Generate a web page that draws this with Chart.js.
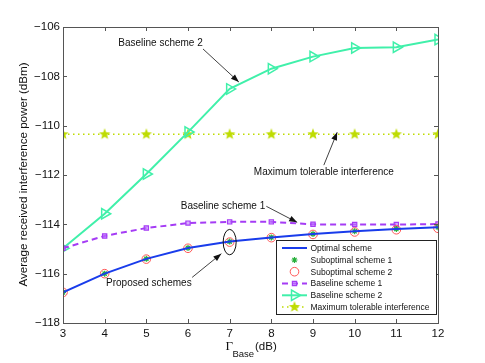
<!DOCTYPE html>
<html>
<head>
<meta charset="utf-8">
<script src="https://cdn.jsdelivr.net/npm/chart.js@4/dist/chart.umd.min.js"></script>
<style>
html,body{margin:0;padding:0;background:#fff;}
#wrap{width:485px;height:363px;position:relative;}
</style>
</head>
<body>
<div id="wrap"><canvas id="c" width="485" height="363"></canvas></div>
<script>
// ---- data ----
const gammaBase = [3, 4, 5, 6, 7, 8, 9, 10, 11, 12];
const optimalScheme = [-116.76, -116.0, -115.40, -114.96, -114.70, -114.53, -114.39, -114.28, -114.19, -114.12];
const suboptimal1 = [-116.76, -116.0, -115.40, -114.96, -114.70, -114.53, -114.39, -114.28, -114.19, -114.12];
const suboptimal2 = [-116.76, -116.0, -115.41, -114.97, -114.72, -114.54, -114.41, -114.31, -114.22, -114.16];
const baseline1 = [-114.97, -114.47, -114.15, -113.95, -113.90, -113.90, -114.00, -114.01, -114.01, -113.99];
const baseline2 = [-114.97, -113.57, -111.96, -110.26, -108.51, -107.69, -107.20, -106.85, -106.82, -106.51];
const maxTolerable = [-110.35, -110.35, -110.35, -110.35, -110.35, -110.35, -110.35, -110.35, -110.35, -110.35];
const yTicks = [-118, -116, -114, -112, -110, -108, -106];
const xTicks = [3, 4, 5, 6, 7, 8, 9, 10, 11, 12];
const seriesNames = ['Optimal scheme', 'Suboptimal scheme 1', 'Suboptimal scheme 2', 'Baseline scheme 1', 'Baseline scheme 2', 'Maximum tolerable interference'];
// annotations: [text, textX, textY, arrowFromX, arrowFromY, arrowToX, arrowToY]
const annotations = [
  ['Baseline scheme 2', 5.34, -106.65, 6.36, -106.89, 7.22, -108.23],
  ['Maximum tolerable interference', 9.26, -111.88, 9.26, -111.6, 9.58, -110.27],
  ['Baseline scheme 1', 6.84, -113.27, 7.88, -113.27, 8.62, -113.92],
  ['Proposed schemes', 5.06, -116.4, 6.1, -116.15, 6.8, -115.19]
];
const ellipseAt = [7.0, -114.72];

// ---- styles ----
const C_OPT = 'rgb(25,60,235)';
const C_S1 = 'rgb(40,175,60)';
const C_S2 = 'rgb(255,85,85)';
const C_B1 = 'rgb(165,60,245)';
const C_B2 = 'rgb(64,240,170)';
const C_MAX = 'rgb(190,220,0)';

function makeStar(r, color) {
  const cv = document.createElement('canvas');
  const s = Math.ceil(2 * r + 2);
  cv.width = s; cv.height = s;
  const g = cv.getContext('2d');
  g.fillStyle = color;
  g.beginPath();
  for (let i = 0; i < 10; i++) {
    const rr = i % 2 === 0 ? r : r * 0.42;
    const a = -Math.PI / 2 + i * Math.PI / 5;
    const px = s / 2 + rr * Math.cos(a), py = s / 2 + rr * Math.sin(a);
    if (i === 0) g.moveTo(px, py); else g.lineTo(px, py);
  }
  g.closePath();
  g.fill();
  return cv;
}
const starImg = makeStar(6, C_MAX);

const toXY = arr => arr.map((v, i) => ({x: gammaBase[i], y: v}));

const datasets = [
  {label: seriesNames[0], data: toXY(optimalScheme), borderColor: C_OPT, borderWidth: 2, pointRadius: 0, showLine: true},
  {label: seriesNames[1], data: toXY(suboptimal1), borderColor: C_S1, backgroundColor: C_S1, showLine: false, pointStyle: 'star', pointRadius: 3, pointBorderWidth: 1.2},
  {label: seriesNames[2], data: toXY(suboptimal2), borderColor: C_S2, backgroundColor: 'rgba(0,0,0,0)', showLine: false, pointStyle: 'circle', pointRadius: 4.3, pointBorderWidth: 1},
  {label: seriesNames[3], data: toXY(baseline1), borderColor: C_B1, backgroundColor: 'rgba(190,120,255,0.6)', borderWidth: 2, borderDash: [6, 4], showLine: true, pointStyle: 'rect', pointRadius: 3, pointBorderWidth: 1.2},
  {label: seriesNames[4], data: toXY(baseline2), borderColor: C_B2, backgroundColor: 'rgba(0,0,0,0)', borderWidth: 2, showLine: true, pointStyle: 'triangle', pointRotation: 90, pointRadius: 6, pointBorderWidth: 1.5},
  {label: seriesNames[5], data: toXY(maxTolerable), borderColor: C_MAX, backgroundColor: C_MAX, borderWidth: 1.5, borderDash: [1.5, 3.5], showLine: true, pointStyle: starImg, pointRadius: 6}
];

function drawArrow(ctx, x1, y1, x2, y2) {
  ctx.beginPath();
  ctx.moveTo(x1, y1); ctx.lineTo(x2, y2);
  ctx.stroke();
  const ang = Math.atan2(y2 - y1, x2 - x1);
  const L = 8, W = 3;
  ctx.beginPath();
  ctx.moveTo(x2, y2);
  ctx.lineTo(x2 - L * Math.cos(ang) + W * Math.sin(ang), y2 - L * Math.sin(ang) - W * Math.cos(ang));
  ctx.lineTo(x2 - L * Math.cos(ang) - W * Math.sin(ang), y2 - L * Math.sin(ang) + W * Math.cos(ang));
  ctx.closePath();
  ctx.fill();
}

const decor = {
  id: 'decor',
  afterDatasetsDraw(chart) {
    const {ctx, chartArea: a, scales: {x, y}} = chart;
    ctx.save();
    // box
    ctx.strokeStyle = '#555';
    ctx.lineWidth = 1;
    ctx.strokeRect(Math.round(a.left) + 0.5, Math.round(a.top) + 0.5, Math.round(a.right - a.left), Math.round(a.bottom - a.top));
    // inward ticks
    ctx.beginPath();
    const tl = 4;
    xTicks.forEach(t => {
      const px = Math.round(x.getPixelForValue(t)) + 0.5;
      ctx.moveTo(px, a.bottom); ctx.lineTo(px, a.bottom - tl);
      ctx.moveTo(px, a.top); ctx.lineTo(px, a.top + tl);
    });
    yTicks.forEach(t => {
      const py = Math.round(y.getPixelForValue(t)) + 0.5;
      ctx.moveTo(a.left, py); ctx.lineTo(a.left + tl, py);
      ctx.moveTo(a.right, py); ctx.lineTo(a.right - tl, py);
    });
    ctx.stroke();

    // annotations
    ctx.fillStyle = '#111';
    ctx.strokeStyle = '#111';
    ctx.lineWidth = 0.8;
    ctx.font = '10px "Liberation Sans", Arial, sans-serif';
    ctx.textAlign = 'center';
    ctx.textBaseline = 'middle';
    annotations.forEach(an => {
      ctx.fillText(an[0], x.getPixelForValue(an[1]), y.getPixelForValue(an[2]));
      drawArrow(ctx, x.getPixelForValue(an[3]), y.getPixelForValue(an[4]), x.getPixelForValue(an[5]), y.getPixelForValue(an[6]));
    });
    // ellipse
    ctx.lineWidth = 1;
    ctx.beginPath();
    ctx.ellipse(x.getPixelForValue(ellipseAt[0]), y.getPixelForValue(ellipseAt[1]), 6.5, 12.7, 0, 0, Math.PI * 2);
    ctx.stroke();

    // legend
    const lx = 276.5, ly = 240.5, lw = 160, lh = 74;
    ctx.fillStyle = '#fff';
    ctx.fillRect(lx, ly, lw, lh);
    ctx.strokeStyle = '#222';
    ctx.lineWidth = 1;
    ctx.strokeRect(lx, ly, lw, lh);
    const rows = [248, 260, 271.7, 283.5, 295.3, 307];
    const x0 = 282, x1 = 307, xm = 294.5, xt = 310.5;
    ctx.font = '8.5px "Liberation Sans", Arial, sans-serif';
    ctx.textAlign = 'left';
    datasets.forEach((ds, i) => {
      const ry = rows[i];
      if (ds.showLine) {
        ctx.save();
        ctx.strokeStyle = ds.borderColor;
        ctx.lineWidth = ds.borderWidth;
        ctx.setLineDash(ds.borderDash || []);
        ctx.beginPath(); ctx.moveTo(x0, ry); ctx.lineTo(x1, ry); ctx.stroke();
        ctx.restore();
      }
      if (ds.pointRadius > 0) {
        ctx.save();
        ctx.strokeStyle = ds.borderColor;
        ctx.fillStyle = ds.backgroundColor;
        ctx.lineWidth = ds.pointBorderWidth || 1;
        Chart.helpers.drawPoint(ctx, {pointStyle: ds.pointStyle, radius: ds.pointRadius, rotation: ds.pointRotation || 0, borderWidth: ds.pointBorderWidth || 1}, xm, ry);
        ctx.restore();
      }
      ctx.fillStyle = '#111';
      ctx.fillText(ds.label, xt, ry + 0.5);
    });

    // x-axis title with subscript
    ctx.fillStyle = '#111';
    ctx.textBaseline = 'alphabetic';
    ctx.font = '13px "Liberation Serif", "DejaVu Serif", serif';
    ctx.fillText('\u0393', 225.5, 349.5);
    ctx.font = '9.5px "Liberation Sans", Arial, sans-serif';
    ctx.fillText('Base', 232.5, 356.5);
    ctx.font = '11.5px "Liberation Sans", Arial, sans-serif';
    ctx.fillText('(dB)', 255, 350);

    // y-axis title
    ctx.save();
    ctx.translate(24, 174.5);
    ctx.rotate(-Math.PI / 2);
    ctx.textAlign = 'center';
    ctx.textBaseline = 'middle';
    ctx.font = '11.6px "Liberation Sans", Arial, sans-serif';
    ctx.fillText('Average received interference power (dBm)', 0, 0);
    ctx.restore();
    ctx.restore();
  }
};

new Chart(document.getElementById('c'), {
  type: 'line',
  data: {datasets},
  options: {
    responsive: false,
    animation: false,
    events: [],
    layout: {padding: {top: 27, right: 47, left: 0, bottom: 0}},
    plugins: {legend: {display: false}, tooltip: {enabled: false}},
    scales: {
      x: {
        type: 'linear', min: 3, max: 12,
        afterFit: s => { s.height = 40; },
        afterBuildTicks: s => { s.ticks = xTicks.map(v => ({value: v})); },
        grid: {display: false, drawTicks: false, tickLength: 0}, border: {display: false},
        ticks: {color: '#111', padding: 4, font: {size: 11.5, family: '"Liberation Sans", Arial, sans-serif'}, maxRotation: 0}
      },
      y: {
        min: -118, max: -106,
        afterFit: s => { s.width = 63; },
        afterBuildTicks: s => { s.ticks = yTicks.map(v => ({value: v})); },
        grid: {display: false, drawTicks: false, tickLength: 0}, border: {display: false},
        ticks: {color: '#111', padding: 3, font: {size: 11.5, family: '"Liberation Sans", Arial, sans-serif'},
          callback: v => (v < 0 ? '\u2212' : '') + Math.abs(v)}
      }
    }
  },
  plugins: [decor]
});
</script>
</body>
</html>
